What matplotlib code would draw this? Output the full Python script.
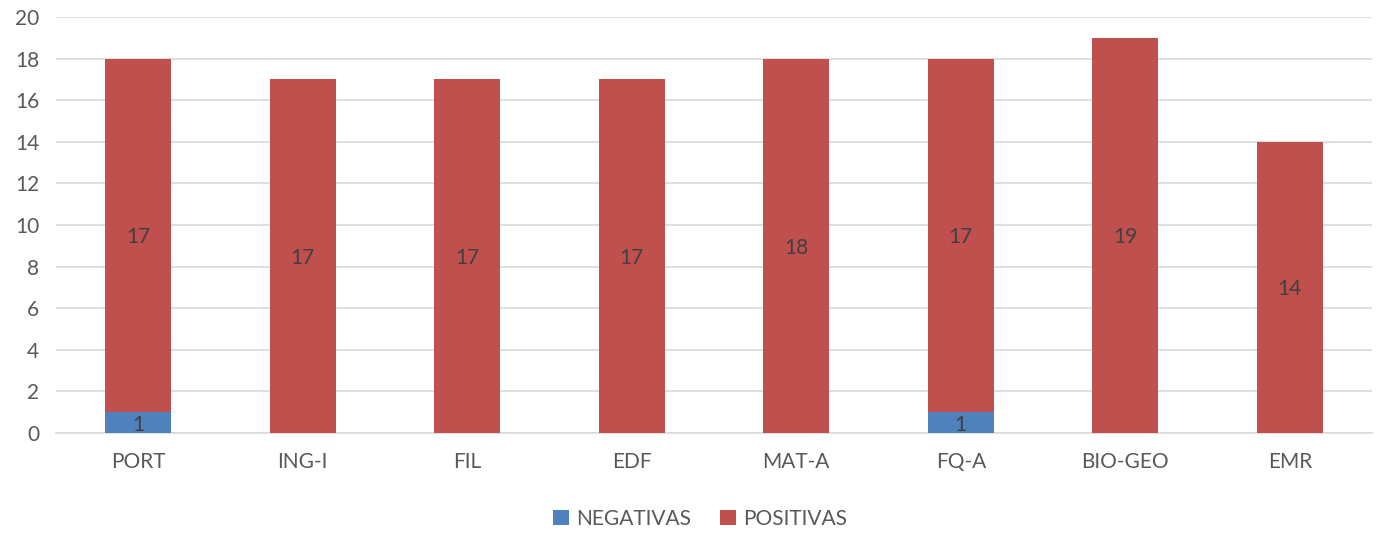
import matplotlib
matplotlib.use("Agg")
import matplotlib.pyplot as plt
import numpy as np

categories = ["PORT", "ING-I", "FIL", "EDF", "MAT-A", "FQ-A", "BIO-GEO", "EMR"]
negativas = [1, 0, 0, 0, 0, 1, 0, 0]
positivas = [17, 17, 17, 17, 18, 17, 19, 14]
yticks = [0, 2, 4, 6, 8, 10, 12, 14, 16, 18, 20]

plt.rcParams['font.family'] = ['Lato', 'DejaVu Sans']

W, H = 1381, 534
fig = plt.figure(figsize=(W/100, H/100), dpi=100)
ax = fig.add_axes([56/W, 1-433/H, (1372-56)/W, (433-17)/H])

x = np.arange(len(categories))
blue = "#4F81BD"
red = "#C0504D"
b1 = ax.bar(x, negativas, 0.4, color=blue, label="NEGATIVAS", zorder=3)
b2 = ax.bar(x, positivas, 0.4, bottom=negativas, color=red, label="POSITIVAS", zorder=3)

for i in range(len(categories)):
    if negativas[i]:
        ax.text(x[i], negativas[i]/2 - 0.1, str(negativas[i]), ha="center", va="center",
                fontsize=15, color="#404040", zorder=4)
    if positivas[i]:
        ax.text(x[i], negativas[i] + positivas[i]/2 - 0.1, str(positivas[i]), ha="center", va="center",
                fontsize=15, color="#404040", zorder=4)

ax.set_xlim(-0.5, len(categories)-0.5)
ax.set_ylim(0, 20)
ax.set_yticks(yticks)
ax.set_xticks(x)
ax.set_xticklabels(categories)
ax.tick_params(axis="both", length=0, labelsize=15, colors="#595959")
ax.tick_params(axis="x", pad=14)
ax.tick_params(axis="y", pad=12)
ax.grid(axis="y", color="#D9D9D9", linewidth=1.2, zorder=0)
for s in ["top", "right", "left"]:
    ax.spines[s].set_visible(False)
ax.spines["bottom"].set_color("#D9D9D9")
ax.spines["bottom"].set_linewidth(1.2)

leg = fig.legend(handles=[b1, b2], loc="center", bbox_to_anchor=(700/W, 1-519/H), ncol=2,
                 frameon=False, fontsize=15, handlelength=0.75, handleheight=0.75,
                 columnspacing=1.4, handletextpad=0.35)
for t in leg.get_texts():
    t.set_color("#595959")

fig.savefig("out.png", dpi=100)
